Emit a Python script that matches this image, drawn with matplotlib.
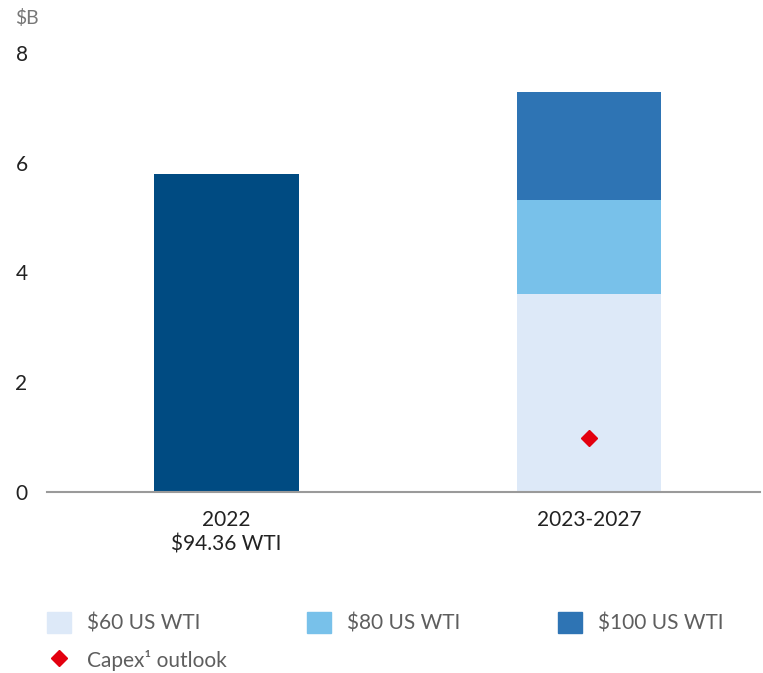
import matplotlib.pyplot as plt
from matplotlib.patches import Patch
from matplotlib.lines import Line2D

plt.rcParams['font.family'] = ['Lato', 'DejaVu Sans']

categories = ['2022\n$94.36 WTI', '2023-2027']
x_pos = [0.252, 0.760]
actual_2022 = [5.79, 0]
wti_60 = [0, 3.60]
wti_80 = [0, 1.72]
wti_100 = [0, 1.97]
capex_outlook = 0.98

c_2022 = '#004b82'
c_60 = '#dde9f8'
c_80 = '#78c1ea'
c_100 = '#2e74b4'
c_red = '#e3000f'

fig = plt.figure(figsize=(7.63, 6.73), dpi=100)
ax = fig.add_axes([47 / 763, 1 - 492 / 673, 713 / 763, (492 - 53) / 673])

w = 0.203
ax.bar(x_pos[0], actual_2022[0], width=w, color=c_2022)
ax.bar(x_pos[1], wti_60[1], width=w, color=c_60)
ax.bar(x_pos[1], wti_80[1], width=w, bottom=wti_60[1], color=c_80)
ax.bar(x_pos[1], wti_100[1], width=w, bottom=wti_60[1] + wti_80[1], color=c_100)
ax.plot(x_pos[1], capex_outlook, marker='D', markersize=8, color=c_red, linestyle='none')

ax.set_xlim(0, 1)
ax.set_ylim(0, 8)
ax.set_yticks([0, 2, 4, 6, 8])
ax.set_xticks(x_pos)
ax.set_xticklabels(categories, fontsize=15, color='#222222', linespacing=1.25)
ax.tick_params(axis='y', labelsize=15, labelcolor='#222222', length=0, pad=14)
ax.tick_params(axis='x', length=0, pad=13)
for s in ['top', 'right', 'left']:
    ax.spines[s].set_visible(False)
ax.spines['bottom'].set_color('#9a9a9a')
ax.spines['bottom'].set_linewidth(1.5)

fig.text(15 / 763, 1 - 18 / 673, '$B', fontsize=14, color='#777777', va='center', ha='left')

leg_kw = dict(loc='center left', frameon=False, fontsize=15, labelcolor='#5e5e5e',
              handlelength=1.15, handleheight=1.15, handletextpad=0.75,
              borderpad=0, borderaxespad=0)
legend_items = [
    (Patch(color=c_60), '$60 US WTI', 47),
    (Patch(color=c_80), '$80 US WTI', 307),
    (Patch(color=c_100), '$100 US WTI', 558),
]
for h, lab, px in legend_items:
    fig.legend([h], [lab], bbox_to_anchor=(px / 763, 1 - 623 / 673), **leg_kw)
fig.legend([Line2D([], [], marker='D', color=c_red, markersize=8, linestyle='none')],
           ['Capex¹ outlook'], bbox_to_anchor=(47 / 763, 1 - 660 / 673), **leg_kw)

fig.savefig('out.png', dpi=100)
